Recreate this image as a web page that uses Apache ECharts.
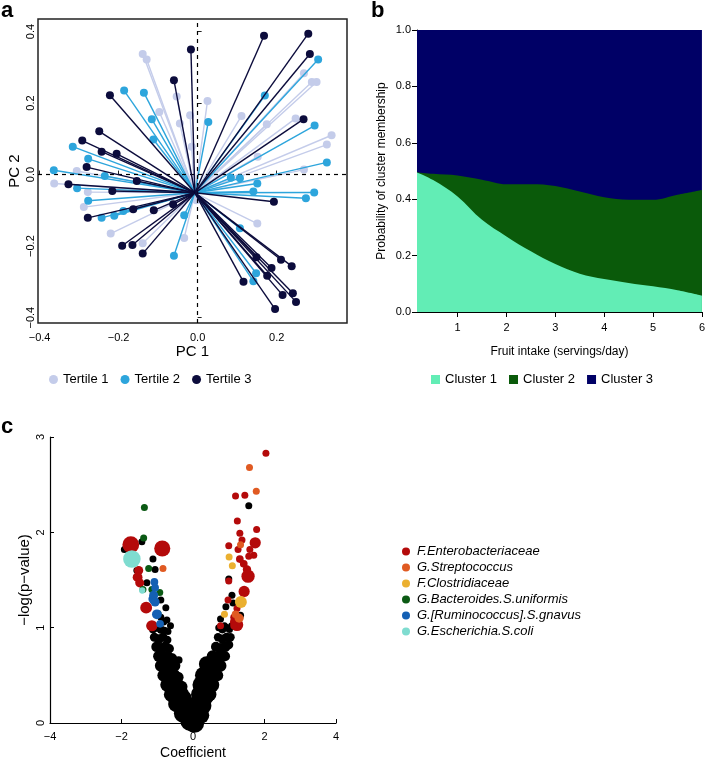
<!DOCTYPE html>
<html><head><meta charset="utf-8">
<script src="https://cdn.jsdelivr.net/npm/echarts@6/dist/echarts.min.js"></script>
<style>html,body{margin:0;padding:0;background:#fff}#c{width:708px;height:761px}</style>
</head><body><div id="c"></div>
<script>
// ---------- Panel a : PCA biplot ----------
const pcCenter = [-0.007, -0.051];
const pcTicksX = [-0.4, -0.2, 0, 0.2];
const pcTicksY = [-0.4, -0.2, 0, 0.2, 0.4];
const tertile1 = [[-0.139,0.337],[-0.129,0.322],[-0.053,0.218],[-0.097,0.175],[0.025,0.206],[-0.019,0.166],[-0.045,0.143],[0.269,0.283],[0.289,0.259],[0.301,0.259],[0.111,0.164],[0.175,0.141],[0.248,0.157],[0.339,0.110],[0.327,0.084],[0.152,0.050],[0.269,0.014],[-0.306,0.010],[-0.363,-0.025],[-0.278,-0.049],[-0.288,-0.091],[-0.220,-0.165],[-0.139,-0.192],[-0.034,-0.177],[0.151,-0.137],[-0.003,-0.072],[-0.015,0.078]];
const tertile2 = [[0.305,0.322],[0.170,0.221],[-0.186,0.235],[-0.136,0.229],[-0.116,0.155],[0.027,0.147],[-0.112,0.098],[-0.316,0.078],[0.296,0.137],[-0.277,0.044],[0.327,0.034],[-0.364,0.012],[-0.235,-0.004],[-0.305,-0.038],[-0.277,-0.073],[-0.243,-0.121],[-0.211,-0.115],[-0.188,-0.102],[-0.034,-0.114],[-0.060,-0.227],[0.084,-0.009],[0.107,-0.010],[0.151,-0.025],[0.141,-0.047],[0.295,-0.050],[0.274,-0.066],[0.107,-0.150],[0.148,-0.276],[0.141,-0.298]];
const tertile3 = [[0.168,0.388],[0.280,0.394],[0.284,0.337],[-0.017,0.350],[-0.060,0.264],[-0.222,0.222],[-0.249,0.121],[-0.292,0.095],[0.268,0.155],[-0.205,0.058],[-0.243,0.064],[-0.281,0.021],[-0.327,-0.027],[-0.216,-0.046],[-0.154,-0.018],[-0.278,-0.121],[-0.163,-0.097],[-0.111,-0.100],[-0.062,-0.083],[-0.191,-0.199],[-0.165,-0.197],[-0.139,-0.221],[0.193,-0.076],[0.211,-0.238],[0.238,-0.256],[0.187,-0.261],[0.116,-0.300],[0.176,-0.283],[0.215,-0.337],[0.241,-0.332],[0.249,-0.356],[0.196,-0.376],[0.149,-0.231]];
const tertileNames = ['Tertile 1', 'Tertile 2', 'Tertile 3'];

// ---------- Panel b : cluster membership ----------
const fruitX   = [0.17, 0.5, 1, 1.5, 2, 2.5, 3, 3.5, 4, 4.5, 5, 5.5, 6];
const cluster1 = [0.495, 0.468, 0.410, 0.327, 0.268, 0.215, 0.170, 0.136, 0.117, 0.103, 0.091, 0.077, 0.058];
const cluster2 = [0.001, 0.022, 0.074, 0.142, 0.185, 0.238, 0.277, 0.291, 0.290, 0.295, 0.307, 0.339, 0.375];
const cluster3 = [0.504, 0.510, 0.516, 0.531, 0.547, 0.547, 0.553, 0.573, 0.593, 0.602, 0.602, 0.584, 0.567];
const clusterNames = ['Cluster 1', 'Cluster 2', 'Cluster 3'];
const fruitTicks = [1, 2, 3, 4, 5, 6];

// ---------- Panel c : volcano plot  [coefficient, -log(p), relative abundance] ----------
const enterobacteriaceae = [[2.04,2.83,1],[1.19,2.38,1],[1.45,2.39,1],[1.24,2.12,1],[1.31,1.99,1],[1.78,2.03,1],[1.00,1.86,1],[1.37,1.92,1],[1.26,1.82,1],[1.74,1.89,1.6],[1.59,1.82,1],[1.70,1.76,1],[1.56,1.75,1],[1.31,1.72,1.1],[1.42,1.67,1.1],[1.51,1.61,1.2],[1.54,1.54,1.9],[1.00,1.49,1],[1.43,1.38,1.6],[0.98,1.29,1],[1.23,1.20,1],[1.14,1.11,1],[1.19,1.06,1.6],[1.23,1.03,1.8],[0.77,1.02,1],[1.14,1.02,1],[-1.74,1.87,2.4],[-0.86,1.83,2.3],[-1.52,1.60,1.3],[-1.55,1.53,1.4],[-1.49,1.47,1.3],[-1.31,1.21,1.7],[-1.15,1.02,1.6]];
const streptococcus = [[1.58,2.68,1],[1.77,2.43,1],[1.33,1.87,1],[1.19,1.14,1.1],[1.29,1.10,1.3],[-0.84,1.62,1]];
const clostridiaceae = [[1.01,1.74,1],[1.10,1.65,1],[1.34,1.27,1.7],[0.88,1.14,1]];
const bacteroidesUniformis = [[-1.36,2.26,1],[-1.38,1.94,1],[-1.24,1.62,1],[-1.40,1.40,1],[-1.15,1.40,1],[-0.93,1.37,1],[-0.97,1.15,0.9]];
const ruminococcusGnavus = [[-1.08,1.48,1.1],[-1.06,1.42,1.1],[-1.12,1.30,1.3],[-1.10,1.34,1.3],[-1.06,1.27,1.3],[-1.01,1.14,1.4],[-0.92,1.04,1.1]];
const escherichiaColi = [[-1.71,1.72,2.5],[-1.42,1.39,0.9]];
const otherTaxa = [[1.56,2.28,1],[1.00,1.51,1],[1.09,1.34,1],[1.12,1.26,1],[0.92,1.22,1],[1.33,1.13,1],[0.77,1.09,1],[0.88,1.02,1],[-1.43,1.90,1],[-1.92,1.82,1],[-1.12,1.72,1],[-1.06,1.61,1],[-1.29,1.47,1],[-0.90,1.29,1],[-0.76,1.21,1],[-0.90,1.11,1],[-0.73,1.08,1],[-1.20,1.02,1],[-0.82,1.06,1],[-0.63,1.02,1],[-1.58,1.60,0.9],
 [-1.12,0.98,1.1],[-1.00,1.00,1.2],[-0.90,0.98,1.2],[-0.80,0.97,1.1],[-0.70,0.96,1],
 [-1.08,0.90,1.3],[-0.96,0.88,1.4],[-0.84,0.90,1.3],[-0.72,0.87,1.2],
 [-1.02,0.80,1.5],[-0.90,0.78,1.6],[-0.78,0.80,1.5],[-0.66,0.78,1.3],
 [-0.96,0.70,1.6],[-0.84,0.68,1.7],[-0.71,0.70,1.6],[-0.58,0.68,1.4],
 [-0.90,0.60,1.7],[-0.77,0.58,1.8],[-0.63,0.60,1.7],[-0.50,0.60,1.5],[-0.40,0.66,1.1],
 [-0.82,0.50,1.8],[-0.68,0.48,2],[-0.54,0.50,1.9],[-0.42,0.48,1.6],
 [-0.72,0.40,2],[-0.58,0.38,2.1],[-0.44,0.40,2],[-0.32,0.38,1.7],
 [-0.60,0.30,2.2],[-0.46,0.28,2.3],[-0.32,0.30,2.2],[-0.22,0.27,1.8],
 [-0.46,0.20,2.4],[-0.33,0.18,2.5],[-0.20,0.20,2.4],
 [-0.28,0.10,2.6],[-0.15,0.08,2.7],[-0.05,0.10,2.5],
 [-0.08,0.02,2.8],[0.04,0.00,2.8],
 [0.72,1.00,1],[0.82,0.98,1.1],[0.92,1.00,1.1],[1.02,0.98,1],[1.08,1.02,1],
 [0.70,0.90,1.2],[0.82,0.88,1.3],[0.94,0.90,1.3],[1.05,0.90,1.2],
 [0.64,0.80,1.4],[0.77,0.78,1.6],[0.90,0.80,1.5],[1.00,0.82,1.3],
 [0.55,0.70,1.7],[0.68,0.68,1.8],[0.80,0.70,1.7],[0.90,0.70,1.4],
 [0.38,0.62,2.2],[0.50,0.58,2.2],[0.64,0.60,2],[0.77,0.60,1.7],
 [0.30,0.50,2.5],[0.45,0.48,2.4],[0.58,0.50,2.1],[0.68,0.50,1.7],
 [0.24,0.40,2.6],[0.38,0.38,2.5],[0.52,0.40,2.2],
 [0.20,0.30,2.6],[0.34,0.28,2.5],[0.46,0.30,2],
 [0.14,0.20,2.6],[0.28,0.18,2.4],
 [0.10,0.10,2.7],[0.22,0.08,2.4]];
const coefTicks = [-4, -2, 0, 2, 4];
const taxaNames = ['F.Enterobacteriaceae', 'G.Streptococcus', 'F.Clostridiaceae', 'G.Bacteroides.S.uniformis', 'G.[Ruminococcus].S.gnavus', 'G.Escherichia.S.coli'];

// ---------- styling ----------
const FONT = '"Liberation Sans", Arial, Helvetica, sans-serif';
const tertileColors = ['#C4CCEA', '#2DA5DC', '#0C0C3C'];
const clusterColors = ['#62EDB5', '#0A5A0A', '#000066'];
const taxaColors = ['#B40A0A', '#E05A22', '#EBB030', '#0B5A14', '#1460B4', '#7FDCD0'];
const minus = v => String(v).replace('-', '\u2212');
const fmt1 = v => minus((Math.round(v * 10) / 10).toFixed(1));

const chart = echarts.init(document.getElementById('c'), null, { renderer: 'canvas' });

const tertileData = [tertile1, tertile2, tertile3];
const seriesA = [];
tertileData.forEach((arr, i) => {
  seriesA.push({
    type: 'lines', name: tertileNames[i] + ' arrows', coordinateSystem: 'cartesian2d',
    xAxisIndex: 0, yAxisIndex: 0, z: 2 + i * 2,
    lineStyle: { color: tertileColors[i], width: 1.4, opacity: 1 },
    data: arr.map(p => ({ coords: [pcCenter, p] })), silent: true
  });
  seriesA.push({
    type: 'scatter', name: tertileNames[i], xAxisIndex: 0, yAxisIndex: 0, z: 3 + i * 2,
    symbol: 'circle', symbolSize: 8, itemStyle: { color: tertileColors[i], opacity: 1 },
    data: arr
  });
});
seriesA.push({
  type: 'scatter', name: 'ref', xAxisIndex: 0, yAxisIndex: 0, data: [], z: 10,
  markLine: { silent: true, symbol: ['none', 'none'], label: { show: false },
    lineStyle: { color: '#000', type: [4, 4], width: 1.2 },
    data: [{ xAxis: 0 }, { yAxis: 0 }] }
});

// stacked areas: each band drawn as cumulative total, painted from the top band down
const clusterData = [cluster1, cluster2, cluster3];
const cumulative = clusterData.map((_, i) => fruitX.map((x, k) => {
  let s = 0; for (let j = 0; j <= i; j++) s += clusterData[j][k]; return [x, s];
}));
const seriesB = [2, 1, 0].map((i, order) => ({
  type: 'line', name: clusterNames[i], xAxisIndex: 1, yAxisIndex: 1, z: 2 + order,
  smooth: 0.35, showSymbol: false, symbol: 'none',
  lineStyle: { width: 0 }, areaStyle: { color: clusterColors[i], opacity: 1, origin: 'start' },
  itemStyle: { color: clusterColors[i] },
  data: cumulative[i]
}));

const taxaData = [enterobacteriaceae, streptococcus, clostridiaceae, bacteroidesUniformis, ruminococcusGnavus, escherichiaColi];
const sizeOf = v => 7 * v[2];
const seriesC = [{
  type: 'scatter', name: 'Other', xAxisIndex: 2, yAxisIndex: 2, z: 2,
  symbolSize: sizeOf, itemStyle: { color: '#000', opacity: 1 }, data: otherTaxa
}].concat(taxaData.map((arr, i) => ({
  type: 'scatter', name: taxaNames[i], xAxisIndex: 2, yAxisIndex: 2, z: 3,
  symbolSize: sizeOf, itemStyle: { color: taxaColors[i], opacity: 1 }, data: arr
})));

const lbl = { color: '#000', fontFamily: FONT, fontSize: 11 };

chart.setOption({
  animation: false,
  textStyle: { fontFamily: FONT },
  grid: [
    { left: 38, top: 19, width: 309, height: 304, show: true, borderColor: '#222', borderWidth: 1.5, backgroundColor: 'transparent' },
    { left: 417, top: 30, width: 287, height: 282 },
    { left: 50, top: 437, width: 286, height: 288 }
  ],
  xAxis: [
    { gridIndex: 0, type: 'value', min: -0.404, max: 0.378, splitLine: { show: false },
      axisLine: { show: false },
      axisTick: { show: true, inside: true, length: 4, customValues: pcTicksX, lineStyle: { color: '#222' } },
      axisLabel: { ...lbl, customValues: pcTicksX, formatter: fmt1, margin: 9 },
      name: 'PC 1', nameLocation: 'middle', nameGap: 21, nameTextStyle: { color: '#000', fontSize: 15, fontFamily: FONT } },
    { gridIndex: 1, type: 'value', min: 0.17, max: 6, splitLine: { show: false },
      axisLine: { show: true, onZero: false, lineStyle: { color: '#000', width: 1 } },
      axisTick: { show: true, length: 5, customValues: fruitTicks, lineStyle: { color: '#000' } },
      axisLabel: { ...lbl, customValues: fruitTicks, margin: 10 },
      name: 'Fruit intake (servings/day)', nameLocation: 'middle', nameGap: 34, nameTextStyle: { color: '#000', fontSize: 12, fontFamily: FONT } },
    { gridIndex: 2, type: 'value', min: -4, max: 4, interval: 2, splitLine: { show: false },
      axisLine: { show: true, onZero: false, lineStyle: { color: '#000', width: 1.2 } },
      axisTick: { show: true, inside: true, length: 4, lineStyle: { color: '#000' } },
      axisLabel: { ...lbl, formatter: v => minus(v), margin: 8, showMinLabel: true, showMaxLabel: true },
      name: 'Coefficient', nameLocation: 'middle', nameGap: 23, nameTextStyle: { color: '#000', fontSize: 14, fontFamily: FONT } }
  ],
  yAxis: [
    { gridIndex: 0, type: 'value', min: -0.415, max: 0.435, splitLine: { show: false },
      axisLine: { show: false },
      axisTick: { show: true, inside: true, length: 4, customValues: pcTicksY, lineStyle: { color: '#222' } },
      axisLabel: { ...lbl, customValues: pcTicksY, formatter: fmt1, rotate: 90, margin: 2 },
      name: 'PC 2', nameLocation: 'middle', nameGap: 16, nameRotate: 90, nameTextStyle: { color: '#000', fontSize: 15, fontFamily: FONT } },
    { gridIndex: 1, type: 'value', min: 0, max: 1, interval: 0.2, splitLine: { show: false },
      axisLine: { show: true, onZero: false, lineStyle: { color: '#000', width: 1 } },
      axisTick: { show: true, length: 5, lineStyle: { color: '#000' } },
      axisLabel: { ...lbl, formatter: v => v.toFixed(1), margin: 6 },
      name: 'Probability of cluster membership', nameLocation: 'middle', nameGap: 29, nameRotate: 90, nameTextStyle: { color: '#000', fontSize: 12, fontFamily: FONT } },
    { gridIndex: 2, type: 'value', min: 0, max: 3, interval: 1, splitLine: { show: false },
      axisLine: { show: true, onZero: false, lineStyle: { color: '#000', width: 1.2 } },
      axisTick: { show: true, inside: true, length: 4, lineStyle: { color: '#000' } },
      axisLabel: { ...lbl, rotate: 90, margin: 4 },
      name: '\u2212log(p\u2212value)', nameLocation: 'middle', nameGap: 18, nameRotate: 90, nameTextStyle: { color: '#000', fontSize: 15, fontFamily: FONT } }
  ],
  legend: [
    { data: tertileNames, left: 44, top: 368, icon: 'circle', itemWidth: 9, itemHeight: 9, itemGap: 12,
      textStyle: { color: '#000', fontSize: 13, fontFamily: FONT }, selectedMode: false },
    { data: clusterNames, left: 426, top: 368, icon: 'rect', itemWidth: 9, itemHeight: 9, itemGap: 12,
      textStyle: { color: '#000', fontSize: 13, fontFamily: FONT }, selectedMode: false },
    { data: taxaNames, left: 397, top: 540, orient: 'vertical', icon: 'circle', itemWidth: 8, itemHeight: 8, itemGap: 3,
      textStyle: { color: '#000', fontSize: 13, fontStyle: 'italic', fontFamily: FONT, padding: [0, 0, 0, 2] }, selectedMode: false }
  ],
  graphic: [
    { type: 'text', left: 1, top: 0, style: { text: 'a', font: 'bold 22px ' + FONT, fill: '#000' } },
    { type: 'text', left: 371, top: 0, style: { text: 'b', font: 'bold 22px ' + FONT, fill: '#000' } },
    { type: 'text', left: 1, top: 416, style: { text: 'c', font: 'bold 22px ' + FONT, fill: '#000' } }
  ],
  series: seriesA.concat(seriesB, seriesC)
});
</script></body></html>
